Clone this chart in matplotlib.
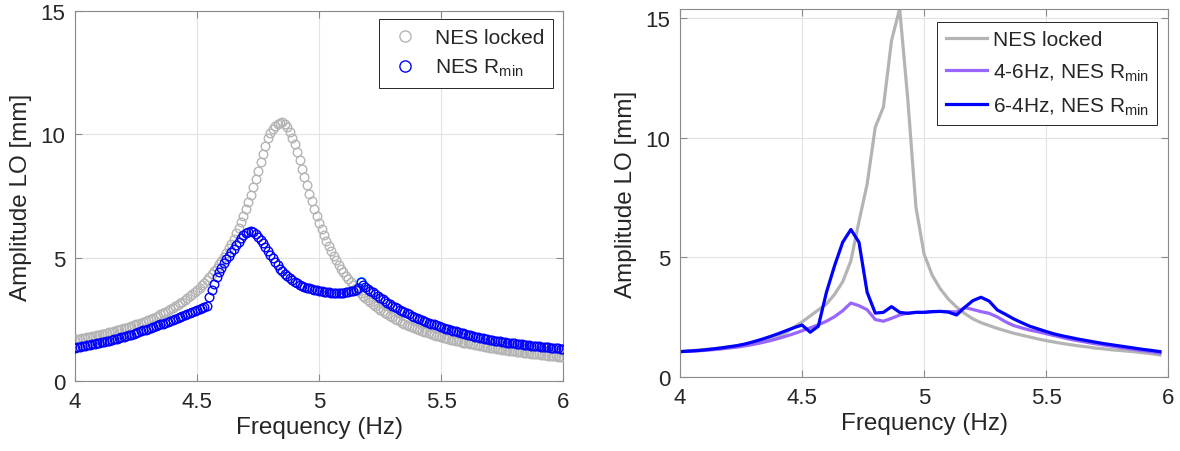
import numpy as np
import matplotlib
matplotlib.use('Agg')
import matplotlib.pyplot as plt

plt.rcParams['font.family'] = ['Liberation Sans', 'DejaVu Sans']
plt.rcParams['mathtext.default'] = 'regular'

# ---- left panel: frequency sweep, 0.01 Hz steps
freq_left = np.round(np.arange(4.0, 6.0001, 0.01), 2)

amp_locked = [1.68, 1.70, 1.71, 1.73, 1.75, 1.77, 1.79, 1.81, 1.83, 1.85,
              1.88, 1.90, 1.92, 1.94, 1.97, 1.99, 2.02, 2.05, 2.07, 2.10,
              2.13, 2.16, 2.19, 2.22, 2.26, 2.29, 2.32, 2.36, 2.40, 2.44,
              2.48, 2.52, 2.56, 2.60, 2.65, 2.70, 2.75, 2.80, 2.85, 2.90,
              2.96, 3.02, 3.08, 3.15, 3.22, 3.29, 3.36, 3.44, 3.52, 3.60,
              3.69, 3.78, 3.88, 3.98, 4.09, 4.20, 4.33, 4.45, 4.58, 4.73,
              4.88, 5.03, 5.20, 5.38, 5.57, 5.77, 5.98, 6.21, 6.45, 6.70,
              6.97, 7.25, 7.55, 7.86, 8.18, 8.52, 8.86, 9.20, 9.54, 9.86,
              10.06, 10.23, 10.34, 10.40, 10.47, 10.48, 10.43, 10.30, 10.11, 9.86,
              9.59, 9.27, 8.95, 8.61, 8.26, 7.93, 7.60, 7.29, 6.98, 6.69,
              6.42, 6.16, 5.92, 5.69, 5.47, 5.27, 5.07, 4.89, 4.72, 4.56,
              4.41, 4.27, 4.13, 4.00, 3.88, 3.77, 3.66, 3.56, 3.46, 3.37,
              3.28, 3.19, 3.11, 3.03, 2.96, 2.89, 2.82, 2.76, 2.70, 2.64,
              2.58, 2.52, 2.47, 2.42, 2.37, 2.33, 2.28, 2.24, 2.19, 2.15,
              2.11, 2.08, 2.04, 2.00, 1.97, 1.94, 1.90, 1.87, 1.84, 1.81,
              1.78, 1.76, 1.73, 1.70, 1.68, 1.65, 1.63, 1.61, 1.58, 1.56,
              1.54, 1.52, 1.50, 1.48, 1.46, 1.44, 1.42, 1.40, 1.38, 1.37,
              1.35, 1.33, 1.32, 1.30, 1.28, 1.27, 1.25, 1.24, 1.23, 1.21,
              1.20, 1.18, 1.17, 1.16, 1.15, 1.13, 1.12, 1.11, 1.10, 1.09,
              1.08, 1.06, 1.05, 1.04, 1.03, 1.02, 1.01, 1.00, 0.99, 0.98,
              0.97]

amp_rmin = [1.35, 1.37, 1.39, 1.40, 1.42, 1.44, 1.46, 1.48, 1.50, 1.52,
            1.54, 1.57, 1.59, 1.61, 1.64, 1.66, 1.69, 1.71, 1.74, 1.77,
            1.79, 1.82, 1.85, 1.88, 1.91, 1.95, 1.98, 2.01, 2.05, 2.08,
            2.12, 2.15, 2.19, 2.22, 2.26, 2.30, 2.33, 2.37, 2.41, 2.44,
            2.48, 2.52, 2.56, 2.59, 2.63, 2.67, 2.71, 2.75, 2.79, 2.83,
            2.87, 2.91, 2.95, 2.99, 3.03, 3.40, 3.68, 3.95, 4.20, 4.40,
            4.60, 4.77, 4.93, 5.08, 5.23, 5.37, 5.52, 5.65, 5.78, 5.90,
            5.99, 6.05, 6.07, 6.03, 5.95, 5.85, 5.72, 5.58, 5.43, 5.27,
            5.11, 4.97, 4.83, 4.69, 4.56, 4.44, 4.34, 4.25, 4.16, 4.08,
            4.02, 3.96, 3.91, 3.86, 3.82, 3.78, 3.75, 3.72, 3.69, 3.67,
            3.65, 3.63, 3.62, 3.60, 3.59, 3.58, 3.57, 3.57, 3.57, 3.57,
            3.58, 3.59, 3.61, 3.63, 3.66, 3.70, 3.75, 4.00, 3.91, 3.83,
            3.74, 3.66, 3.59, 3.51, 3.44, 3.37, 3.31, 3.24, 3.18, 3.12,
            3.05, 2.99, 2.94, 2.89, 2.84, 2.79, 2.74, 2.70, 2.65, 2.61,
            2.57, 2.52, 2.48, 2.44, 2.40, 2.36, 2.33, 2.29, 2.26, 2.22,
            2.18, 2.15, 2.12, 2.09, 2.06, 2.03, 2.01, 1.98, 1.95, 1.93,
            1.89, 1.87, 1.85, 1.82, 1.80, 1.78, 1.76, 1.74, 1.72, 1.70,
            1.68, 1.66, 1.64, 1.62, 1.61, 1.59, 1.58, 1.56, 1.55, 1.54,
            1.52, 1.51, 1.49, 1.48, 1.47, 1.45, 1.44, 1.43, 1.42, 1.41,
            1.40, 1.39, 1.38, 1.37, 1.36, 1.35, 1.34, 1.33, 1.32, 1.31,
            1.30]

# jump points (cyan)
jump_f = [5.16, 5.17]
jump_a = [3.75, 4.00]

# ---- right panel: 1/30 Hz steps
freq_right = 4.0 + np.arange(60) / 30.0

sweep_locked = [1.06, 1.09, 1.12, 1.15, 1.18, 1.22, 1.26, 1.30, 1.35, 1.41,
                1.47, 1.56, 1.66, 1.85, 2.07, 2.30, 2.55, 2.80, 3.05, 3.45,
                3.98, 4.85, 6.50, 8.05, 10.43, 11.27, 14.05, 15.38, 11.60, 7.10,
                5.14, 4.25, 3.68, 3.25, 2.92, 2.65, 2.43, 2.27, 2.15, 2.03,
                1.93, 1.83, 1.75, 1.67, 1.59, 1.52, 1.46, 1.40, 1.35, 1.30,
                1.26, 1.21, 1.18, 1.14, 1.11, 1.08, 1.05, 1.01, 0.97, 0.92]

sweep_up = [1.06, 1.07, 1.09, 1.11, 1.14, 1.17, 1.21, 1.25, 1.30, 1.36,
            1.43, 1.51, 1.60, 1.70, 1.81, 1.93, 2.05, 2.18, 2.33, 2.52,
            2.77, 3.09, 2.98, 2.81, 2.40, 2.33, 2.45, 2.59, 2.67, 2.70,
            2.70, 2.73, 2.74, 2.73, 2.72, 2.90, 2.82, 2.73, 2.66, 2.51,
            2.31, 2.15, 2.05, 1.96, 1.89, 1.81, 1.73, 1.65, 1.57, 1.51,
            1.45, 1.39, 1.34, 1.29, 1.24, 1.19, 1.14, 1.10, 1.05, 1.00]

sweep_down = [1.06, 1.08, 1.10, 1.13, 1.17, 1.21, 1.26, 1.31, 1.38, 1.47,
              1.57, 1.68, 1.80, 1.93, 2.06, 2.17, 1.87, 2.12, 3.54, 4.65,
              5.63, 6.16, 5.63, 3.54, 2.67, 2.70, 2.94, 2.70, 2.66, 2.70,
              2.70, 2.73, 2.74, 2.71, 2.59, 2.91, 3.19, 3.33, 3.17, 2.80,
              2.62, 2.43, 2.27, 2.12, 2.01, 1.90, 1.80, 1.72, 1.65, 1.58,
              1.52, 1.46, 1.40, 1.35, 1.30, 1.25, 1.20, 1.15, 1.11, 1.06]

GRAY = '#b4b4b4'
PURPLE = '#9966ff'
BLUE = '#0000ff'
TXT = '#262626'


def style_axes(ax):
    ax.set_xlim(4, 6)
    ax.set_xticks([4, 4.5, 5, 5.5, 6])
    ax.set_xticklabels(['4', '4.5', '5', '5.5', '6'])
    ax.grid(True, color='#e3e3e3', lw=0.8)
    ax.set_axisbelow(True)
    for s in ax.spines.values():
        s.set_color('#8a8a8a')
        s.set_linewidth(0.8)
    ax.tick_params(direction='in', top=True, right=True, length=5,
                   width=0.8, color='#8a8a8a', labelsize=16,
                   labelcolor=TXT, pad=7)
    ax.set_xlabel('Frequency (Hz)', fontsize=17.5, color=TXT, labelpad=3)
    ax.set_ylabel('Amplitude LO [mm]', fontsize=17.5, color=TXT, labelpad=6)


fig = plt.figure(figsize=(11.8, 4.52), dpi=100)

ax1 = fig.add_axes([0.0636, 0.1549, 0.4136, 0.8186])
ax1.plot(jump_f, jump_a, 'o', ms=6.5, mfc='none', mec='cyan', mew=1.3, zorder=2)
ax1.plot(freq_left, amp_locked, 'o', ms=6.2, mfc='none', mec=GRAY, mew=1.0,
         label='NES locked', zorder=3)
ax1.plot(freq_left, amp_rmin, 'o', ms=6.2, mfc='none', mec=BLUE, mew=1.0,
         label='NES R$_{min}$', zorder=4)
ax1.set_ylim(0, 15)
ax1.set_yticks([0, 5, 10, 15])
style_axes(ax1)
leg1 = ax1.legend(loc='upper right', bbox_to_anchor=(0.98, 0.978), borderaxespad=0,
                  fontsize=15, frameon=True, fancybox=False, framealpha=1,
                  edgecolor=TXT, handlelength=1.6, handletextpad=0.6,
                  labelspacing=0.45, borderpad=0.45, markerscale=1.3)
leg1.get_frame().set_linewidth(0.7)
for t in leg1.get_texts():
    t.set_color(TXT)

ax2 = fig.add_axes([0.5763, 0.1637, 0.4136, 0.8142])
ax2.plot(freq_right, sweep_locked, color=GRAY, lw=2.3, label='NES locked')
ax2.plot(freq_right, sweep_up, color=PURPLE, lw=2.3, label='4-6Hz, NES R$_{min}$')
ax2.plot(freq_right, sweep_down, color=BLUE, lw=2.3, label='6-4Hz, NES R$_{min}$')
ax2.set_ylim(0, 15.37)
ax2.set_yticks([0, 5, 10, 15])
style_axes(ax2)
leg2 = ax2.legend(loc='upper right', bbox_to_anchor=(0.977, 0.965), borderaxespad=0,
                  fontsize=15, frameon=True, fancybox=False, framealpha=1,
                  edgecolor=TXT, handlelength=2.0, handletextpad=0.25,
                  labelspacing=0.6, borderpad=0.4)
leg2.get_frame().set_linewidth(0.7)
for t in leg2.get_texts():
    t.set_color(TXT)

fig.savefig('out.png', dpi=100)
